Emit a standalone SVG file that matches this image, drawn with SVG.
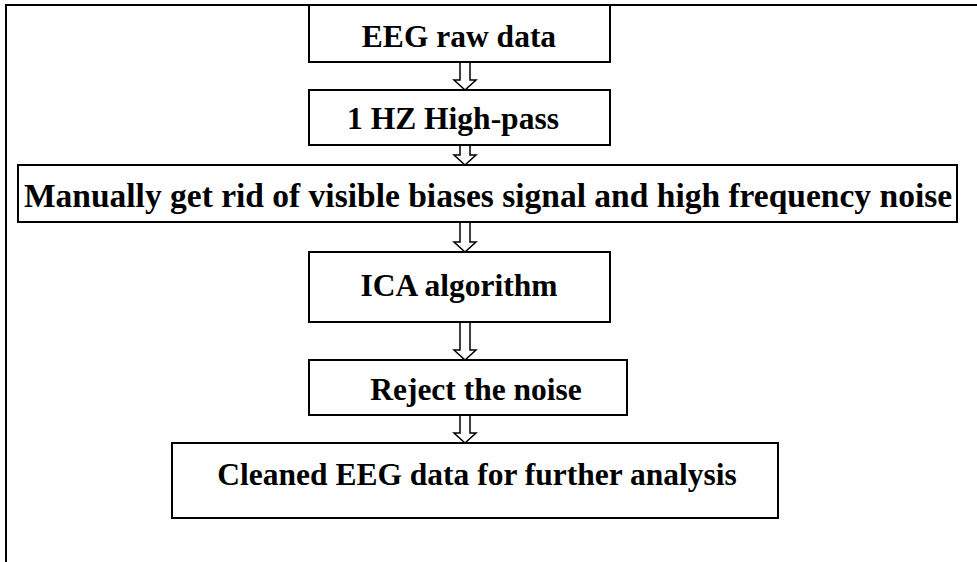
<svg xmlns="http://www.w3.org/2000/svg" width="977" height="562" viewBox="0 0 977 562">
<style>
.box{fill:#fff;stroke:#000;stroke-width:2}
.frame{fill:none;stroke:#000;stroke-width:2}
.arr{fill:#fff;stroke:#000;stroke-width:1.5;stroke-linejoin:miter}
text{font-family:"Liberation Serif","Times New Roman",serif;font-weight:bold;font-size:31.5px;text-anchor:middle;fill:#000}
</style>
<rect width="977" height="562" fill="#fff"/>
<path class="frame" d="M977,5 H6 V562"/>
<g id="connectors">
<path class="arr" d="M460,62 V80 H454 L465,90 L476,80 H470 V62 Z"/>
<path class="arr" d="M460,145 V155 H454 L465,165 L476,155 H470 V145 Z"/>
<path class="arr" d="M460,222 V242 H454 L465,252 L476,242 H470 V222 Z"/>
<path class="arr" d="M460,322 V350 H454 L465,360 L476,350 H470 V322 Z"/>
<path class="arr" d="M460,415 V433 H454 L465,443 L476,433 H470 V415 Z"/>
</g>
<g id="n1"><rect class="box" x="309" y="5" width="301" height="57"/><text x="459" y="47">EEG raw data</text></g>
<g id="n2"><rect class="box" x="309" y="90" width="301" height="55"/><text x="453" y="129">1 HZ High-pass</text></g>
<g id="n3"><rect class="box" x="18" y="165" width="939" height="57"/><text x="488" y="207" style="font-size:33.5px">Manually get rid of visible biases signal and high frequency noise</text></g>
<g id="n4"><rect class="box" x="309" y="252" width="301" height="70"/><text x="459" y="296">ICA algorithm</text></g>
<g id="n5"><rect class="box" x="309" y="360" width="318" height="55"/><text x="476" y="400">Reject the noise</text></g>
<g id="n6"><rect class="box" x="172" y="443" width="606" height="75"/><text x="477" y="485">Cleaned EEG data for further analysis</text></g>
</svg>
